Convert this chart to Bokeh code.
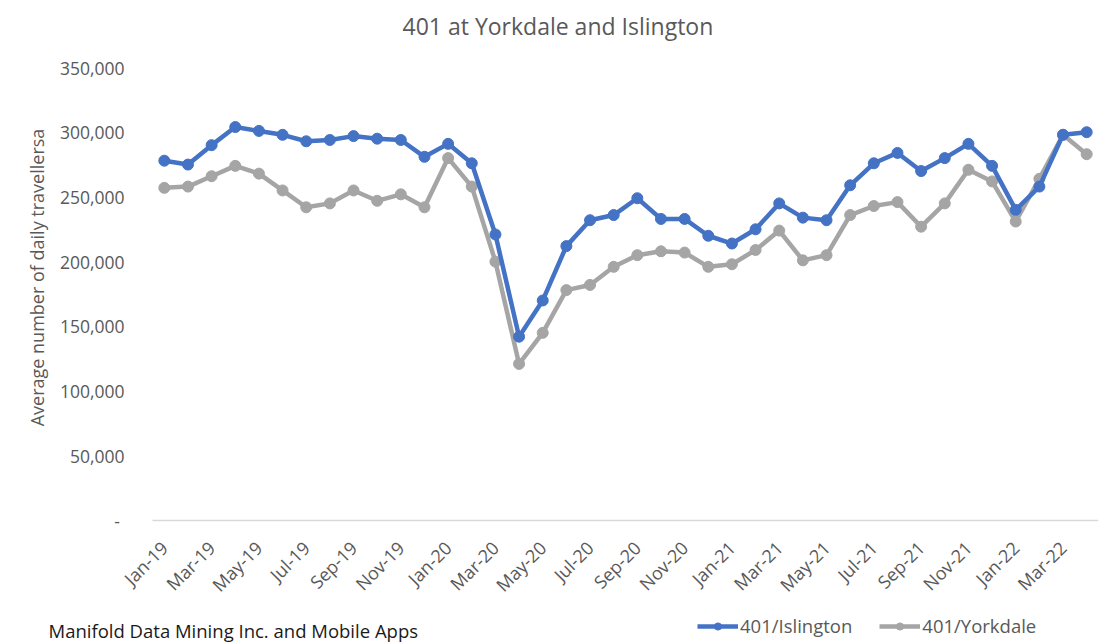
import math
from bokeh.plotting import figure
from bokeh.models import Legend, LegendItem, FixedTicker, NumeralTickFormatter, Label
from bokeh.embed import file_html
from bokeh.resources import INLINE

months = ["Jan-19","Feb-19","Mar-19","Apr-19","May-19","Jun-19","Jul-19","Aug-19","Sep-19","Oct-19","Nov-19","Dec-19",
          "Jan-20","Feb-20","Mar-20","Apr-20","May-20","Jun-20","Jul-20","Aug-20","Sep-20","Oct-20","Nov-20","Dec-20",
          "Jan-21","Feb-21","Mar-21","Apr-21","May-21","Jun-21","Jul-21","Aug-21","Sep-21","Oct-21","Nov-21","Dec-21",
          "Jan-22","Feb-22","Mar-22","Apr-22"]
islington = [278000, 275000, 290000, 304000, 301000, 298000, 293000, 294000, 297000, 295000, 294000, 281000,
             291000, 276000, 221000, 142000, 170000, 212000, 232000, 236000, 249000, 233000, 233000, 220000,
             214000, 225000, 245000, 234000, 232000, 259000, 276000, 284000, 270000, 280000, 291000, 274000,
             240000, 258000, 298000, 300000]
yorkdale = [257000, 258000, 266000, 274000, 268000, 255000, 242000, 245000, 255000, 247000, 252000, 242000,
            280000, 258000, 200000, 121000, 145000, 178000, 182000, 196000, 205000, 208000, 207000, 196000,
            198000, 209000, 224000, 201000, 205000, 236000, 243000, 246000, 227000, 245000, 271000, 262000,
            231000, 264000, 298000, 283000]
y_ticks = [0, 50000, 100000, 150000, 200000, 250000, 300000, 350000]

FONT = "Open Sans"
TXT = "#595959"
BLUE = "#4472C4"
GRAY = "#A5A5A5"

# layout (pixels) -- plot area of the original chart
W, H = 1110, 643
PLOT_L, PLOT_R, PLOT_T, PLOT_B = 152, 1098, 67, 520
FRAME_T = 42
n = len(months)
px_per_cat = (PLOT_R - PLOT_L) / n
x_start = -0.5 - PLOT_L / px_per_cat
y_max = y_ticks[-1]
px_per_val = (PLOT_B - PLOT_T) / y_max
y_start = -(H - PLOT_B) / px_per_val
y_end = y_max + (PLOT_T - FRAME_T) / px_per_val

x = list(range(n))

p = figure(width=W, height=H, output_backend="svg", toolbar_location=None,
           x_range=(x_start, n - 0.5), y_range=(y_start, y_end),
           title="401 at Yorkdale and Islington",
           min_border_left=0, min_border_right=W - PLOT_R, min_border_top=FRAME_T, min_border_bottom=0)
p.title.align = "left"
p.title.offset = 402
p.title.vertical_align = "middle"
p.title.text_font = FONT
p.title.text_font_size = "23px"
p.title.text_font_style = "normal"
p.title.text_color = TXT
p.title.standoff = 0

p.outline_line_color = None
p.xgrid.grid_line_color = None
p.ygrid.grid_line_color = None
p.background_fill_color = "white"
p.border_fill_color = "white"

# x axis at y = 0
p.xaxis.fixed_location = 0
p.xaxis.ticker = FixedTicker(ticks=x[::2])
p.xaxis.major_label_overrides = {i: months[i] for i in x}
p.xaxis.major_label_orientation = math.pi / 4
p.xaxis.axis_line_color = None
p.xaxis.major_tick_line_color = None
p.xaxis.minor_tick_line_color = None
p.xaxis.major_label_text_font = FONT
p.xaxis.major_label_text_font_size = "18px"
p.xaxis.major_label_text_color = TXT
p.xaxis.major_label_standoff = 18
# visible axis line only across the category area
p.segment(x0=[-0.5], y0=[0], x1=[n - 0.5], y1=[0], line_color="#D9D9D9", line_width=1.5)

# y axis at the left of the category area
p.yaxis.fixed_location = -0.5
p.yaxis.ticker = FixedTicker(ticks=y_ticks)
p.yaxis.formatter = NumeralTickFormatter(format="0,0")
p.yaxis.major_label_overrides = {0: "-\u00a0"}
p.yaxis.axis_line_color = None
p.yaxis.major_tick_line_color = None
p.yaxis.minor_tick_line_color = None
p.yaxis.major_label_text_font = FONT
p.yaxis.major_label_text_font_size = "17.5px"
p.yaxis.major_label_text_color = TXT
p.yaxis.major_label_standoff = 22

ylab = Label(x=36, y=H - 277, x_units="screen", y_units="screen", angle=math.pi / 2,
             text="Average number of daily travellersa", text_align="center", text_baseline="middle",
             text_font=FONT, text_font_size="18px", text_color=TXT)
p.add_layout(ylab)

l2 = p.line(x, yorkdale, line_color=GRAY, line_width=4.5)
c2 = p.scatter(x, yorkdale, size=11, fill_color=GRAY, line_color=GRAY)
l1 = p.line(x, islington, line_color=BLUE, line_width=4.5)
c1 = p.scatter(x, islington, size=11, fill_color=BLUE, line_color=BLUE)

legend = Legend(items=[LegendItem(label="401/Islington", renderers=[l1, c1]),
                       LegendItem(label="401/Yorkdale", renderers=[l2, c2])],
                orientation="horizontal", location=(697, 5),
                label_text_font=FONT, label_text_font_size="18.5px", label_text_color=TXT,
                background_fill_alpha=0, border_line_color=None,
                glyph_width=41, glyph_height=18, spacing=27, label_standoff=2, padding=0, margin=0)
p.add_layout(legend, "center")

footer = Label(x=48, y=13, x_units="screen", y_units="screen",
               text="Manifold Data Mining Inc. and Mobile Apps", text_baseline="middle",
               text_font=FONT, text_font_size="18.5px", text_color="#1A1A1A")
p.add_layout(footer)

open("out.html", "w").write(file_html(p, INLINE))
